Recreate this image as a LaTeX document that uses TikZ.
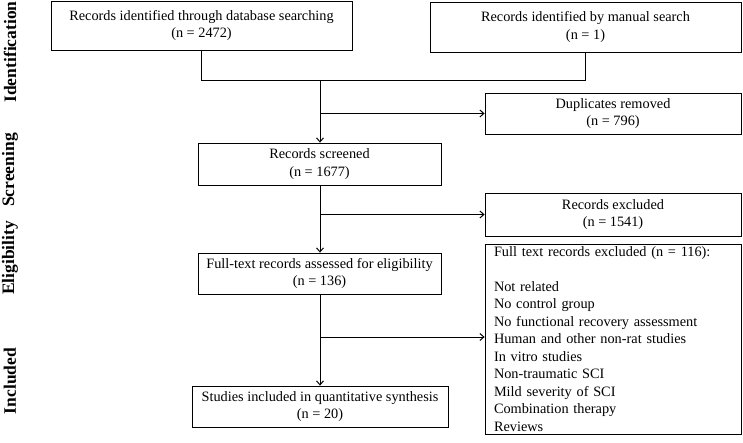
\documentclass[tikz,border=0pt]{standalone}
\usepackage{fontspec}
\setmainfont{Liberation Serif}
\usetikzlibrary{arrows.meta}
\begin{document}
\begin{tikzpicture}[x=1pt,y=-1pt,
  box/.style={draw=black,line width=0.8pt,align=center,inner sep=0pt,
    font=\fontsize{14.3}{17.5}\selectfont},
  conn/.style={line width=1pt,draw=black},
  arr/.style={conn,-{Straight Barb[length=4pt,width=7pt,line width=1pt]}},
  stage/.style={rotate=90,font=\fontsize{17.5}{20}\selectfont\bfseries,inner sep=0pt}]
\useasboundingbox (0,0) rectangle (743,443);
\node[box,minimum width=301pt,minimum height=49pt] (db) at (201.5,25.5)
  {Records identified through database searching\\(n = 2472)};
\node[box,minimum width=311pt,minimum height=50pt] (man) at (585.5,27)
  {Records identified by manual search\\(n = 1)};
\node[box,minimum width=256pt,minimum height=41pt] (dup) at (613,113.5)
  {Duplicates removed\\(n = 796)};
\node[box,minimum width=243pt,minimum height=42pt] (scr) at (319.5,164)
  {Records screened\\(n = 1677)};
\node[box,minimum width=256pt,minimum height=43pt] (ex1) at (613,214.5)
  {Records excluded\\(n = 1541)};
\node[box,minimum width=243pt,minimum height=41pt] (ft) at (319.5,273.5)
  {Full-text records assessed for eligibility\\(n = 136)};
\node[box,minimum width=256pt,minimum height=190pt,align=left,text width=238pt,inner xsep=9pt] (ex2) at (613,339)
  {Full text records excluded (n = 116):\\[17.5pt]
   Not related\\
   No control group\\
   No functional recovery assessment\\
   Human and other non-rat studies\\
   In vitro studies\\
   Non-traumatic SCI\\
   Mild severity of SCI\\
   Combination therapy\\
   Reviews};
\node[box,minimum width=256pt,minimum height=41pt] (inc) at (320,406.5)
  {Studies included in quantitative synthesis\\(n = 20)};
\coordinate (j1) at (320,81);
\coordinate (j2) at (320,113.5);
\coordinate (j3) at (320,214.5);
\coordinate (j4) at (320,337);
\draw[conn] (db.south) -- (db.south |- j1) -- (man.south |- j1) -- (man.south);
\draw[arr] (j1) -- (scr.north -| j1);
\draw[arr] (j2) -- (dup.west);
\draw[arr] (scr.south -| j1) -- (ft.north -| j1);
\draw[arr] (j3) -- (ex1.west);
\draw[arr] (ft.south -| j1) -- (inc.north -| j1);
\draw[arr] (j4) -- (ex2.west |- j4);
\node[stage] (s1) at (10,52) {Identification};
\node[stage] (s2) at (10,170) {Screening};
\node[stage] (s3) at (10,258) {Eligibility};
\node[stage] (s4) at (10,381) {Included};
\end{tikzpicture}
\end{document}
